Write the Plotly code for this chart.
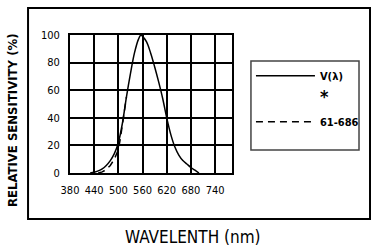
import plotly.graph_objects as go

# Data
wl_v = [430, 440, 450, 460, 470, 480, 490, 500, 510, 520, 530, 540, 550, 556,
        560, 570, 580, 590, 600, 610, 620, 630, 640, 650, 660, 670, 680, 690, 700]
v_lambda = [0, 0.5, 1.5, 3, 5.5, 9, 14, 22, 36, 55, 72, 87, 97, 100,
            99, 95, 87, 77, 66, 54, 40, 28, 19, 13, 9, 6.5, 4, 2, 0]

wl_d = [450, 460, 470, 480, 490, 500, 505, 510, 520]
sens_61686 = [0, 0.8, 2.5, 5.5, 10, 17, 25, 36, 55]

x_ticks = [380, 440, 500, 560, 620, 680, 740]
y_ticks = [0, 20, 40, 60, 80, 100]

FONT = "DejaVu Sans Condensed, Liberation Sans Narrow, sans-serif"

fig = go.Figure()
fig.add_trace(go.Scatter(x=wl_d, y=sens_61686, mode="lines", name="<b>61-686</b>",
                         line=dict(color="black", width=1.5, dash="7px,5px"),
                         legendgroup="c", legendrank=3, showlegend=True))
fig.add_trace(go.Scatter(x=wl_v, y=v_lambda, mode="lines", name="<b>V(λ)</b>",
                         line=dict(color="black", width=1.5, shape="spline"),
                         legendgroup="a", legendrank=1))
fig.add_trace(go.Scatter(x=[None], y=[None], mode="lines",
                         name="<span style='font-size:18px'><b>*</b></span>",
                         line=dict(color="rgba(0,0,0,0)", width=0),
                         legendgroup="b", legendrank=2))

fig.update_layout(
    width=371, height=247,
    margin=dict(l=70, r=139, t=35, b=74, autoexpand=False),
    paper_bgcolor="white", plot_bgcolor="white",
    font=dict(family=FONT, size=11, color="black"),
    showlegend=True,
    legend=dict(x=1.117, y=0.81, xanchor="left", yanchor="top",
                bgcolor="rgba(0,0,0,0)", borderwidth=0,
                font=dict(family=FONT, size=11, color="black"),
                traceorder="grouped", groupclick="toggleitem",
                itemwidth=59, tracegroupgap=4),
    xaxis=dict(range=[380, 782], tickmode="array", tickvals=x_ticks,
               showgrid=True, gridcolor="black", gridwidth=2,
               showline=True, linecolor="black", linewidth=2, mirror=True,
               zeroline=False, ticks="", ticklabelstandoff=6,
               tickfont=dict(family=FONT, size=11)),
    yaxis=dict(range=[0, 100], tickmode="array", tickvals=y_ticks,
               showgrid=True, gridcolor="black", gridwidth=2,
               showline=True, linecolor="black", linewidth=2, mirror=True,
               zeroline=False, ticks="", ticklabelstandoff=6,
               tickfont=dict(family=FONT, size=11)),
    shapes=[
        dict(type="rect", xref="paper", yref="paper",
             x0=-0.259, x1=1.852, y0=-0.333, y1=1.196,
             line=dict(color="black", width=2), fillcolor="rgba(0,0,0,0)"),
        dict(type="rect", xref="paper", yref="paper",
             x0=1.117, x1=1.784, y0=0.167, y1=0.812,
             line=dict(color="#444", width=1.5), fillcolor="rgba(0,0,0,0)"),
    ],
    annotations=[
        dict(text="<b>RELATIVE SENSITIVITY (%)</b>", textangle=-90,
             xref="paper", yref="paper", x=-0.358, y=0.384,
             xanchor="center", yanchor="middle",
             showarrow=False, font=dict(family=FONT, size=13)),
        dict(text="WAVELENTH (nm)", xref="paper", yref="paper",
             x=0.759, y=-0.464, xanchor="center", yanchor="middle",
             showarrow=False, font=dict(family=FONT, size=17)),
    ],
)

fig.write_html("out.html", config={"displayModeBar": False},
               post_script="document.body.style.margin='0';document.body.style.padding='0';")
